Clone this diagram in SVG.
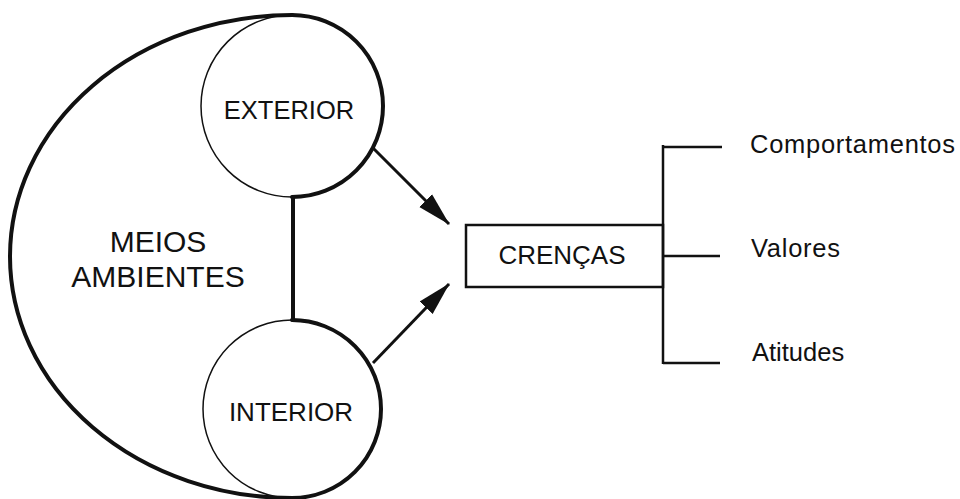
<svg xmlns="http://www.w3.org/2000/svg" width="960" height="499" viewBox="0 0 960 499">
  <style>
    .txt { font-family: "Liberation Sans", Arial, sans-serif; fill: #111; }
    .thin { fill: none; stroke: #111; stroke-width: 1.5; }
    .thick { fill: none; stroke: #111; stroke-width: 4; stroke-linecap: round; }
    .line { fill: none; stroke: #111; stroke-width: 2.5; }
    .arrow { fill: none; stroke: #111; stroke-width: 3; }
  </style>
  <defs>
    <marker id="head" viewBox="0 0 34 20" refX="33" refY="10" markerWidth="34" markerHeight="20" markerUnits="userSpaceOnUse" orient="auto">
      <path d="M0,1 L34,10 L0,19 Z" fill="#111"/>
    </marker>
  </defs>
  <rect width="960" height="499" fill="#fff"/>

  <!-- environment: enveloping curve and link between the two spheres -->
  <g id="meios-ambientes">
    <path class="thick" d="M292,15 A282 241.5 0 0 0 292,498"/>
    <line class="thick" x1="293" y1="197" x2="293" y2="320"/>
    <text class="txt" x="158" y="252" font-size="30" text-anchor="middle">MEIOS</text>
    <text class="txt" x="158" y="287" font-size="30" text-anchor="middle">AMBIENTES</text>
  </g>

  <g id="exterior">
    <circle class="thin" cx="292" cy="106" r="91"/>
    <path class="thick" d="M292,15 A91 91 0 0 1 292,197"/>
    <text class="txt" x="289" y="119" font-size="25.5" text-anchor="middle">EXTERIOR</text>
  </g>

  <g id="interior">
    <circle class="thin" cx="292" cy="409" r="89"/>
    <path class="thick" d="M292,320 A89 89 0 0 1 292,498"/>
    <text class="txt" x="291" y="421" font-size="26" text-anchor="middle">INTERIOR</text>
  </g>

  <g id="crencas">
    <rect class="line" x="466" y="225" width="197" height="62"/>
    <text class="txt" x="562" y="264" font-size="26" text-anchor="middle">CRENÇAS</text>
  </g>

  <g id="comportamentos">
    <text class="txt" x="750" y="153" font-size="25.5" textLength="205" lengthAdjust="spacing">Comportamentos</text>
  </g>
  <g id="valores">
    <text class="txt" x="751" y="257" font-size="25.5" textLength="89" lengthAdjust="spacing">Valores</text>
  </g>
  <g id="atitudes">
    <text class="txt" x="752" y="361" font-size="25.5">Atitudes</text>
  </g>

  <g id="connectors">
    <line class="arrow" x1="373" y1="148" x2="449" y2="224" marker-end="url(#head)"/>
    <line class="arrow" x1="373" y1="363" x2="449" y2="284" marker-end="url(#head)"/>
    <line class="line" x1="663" y1="145" x2="663" y2="364"/>
    <line class="line" x1="663" y1="147" x2="722" y2="147"/>
    <line class="line" x1="663" y1="256" x2="720" y2="256"/>
    <line class="line" x1="663" y1="363" x2="720" y2="363"/>
  </g>
</svg>
